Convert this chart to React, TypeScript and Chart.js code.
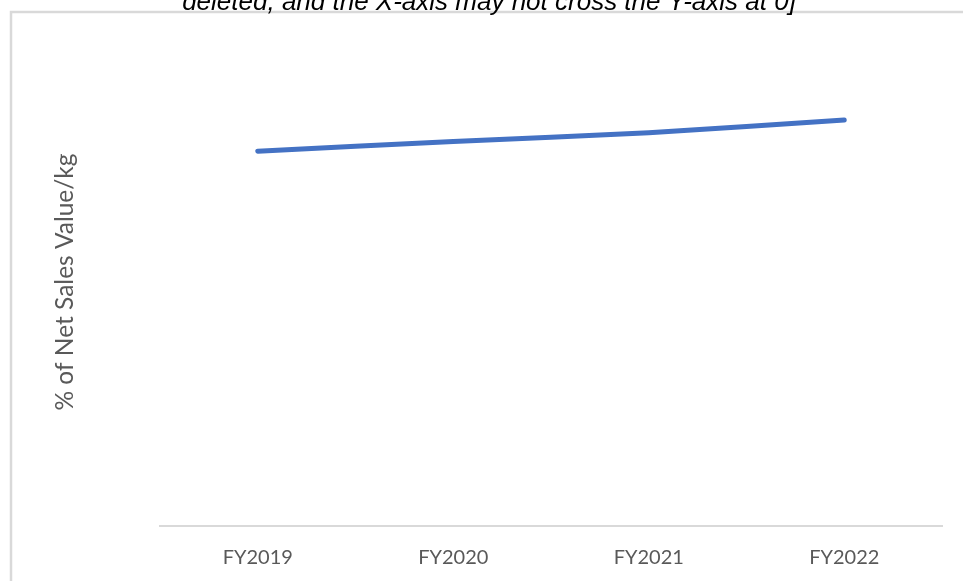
import React, { useEffect, useRef } from "react";
import { Chart, registerables } from "chart.js";

Chart.register(...registerables);

const categories = ["FY2019", "FY2020", "FY2021", "FY2022"];
const netSalesValuePerKg = [7.68, 7.88, 8.06, 8.32];
const yAxisTitle = "% of Net Sales Value/kg";
const cutTitle = "deleted, and the X-axis may not cross the Y-axis at 0]";

const FONT = "Lato, 'Open Sans', sans-serif";

const framePlugin = {
  id: "frame",
  beforeDraw(chart: any) {
    const ctx = chart.ctx;
    ctx.save();
    ctx.fillStyle = "#ffffff";
    ctx.fillRect(0, 0, chart.width, chart.height);
    ctx.strokeStyle = "#d9d9d9";
    ctx.lineWidth = 2.5;
    ctx.strokeRect(11, 12, chart.width + 10, chart.height + 10);
    ctx.fillStyle = "#000000";
    ctx.font = "italic 26px 'Liberation Sans', Arial, sans-serif";
    ctx.textAlign = "center";
    ctx.textBaseline = "alphabetic";
    ctx.fillText(cutTitle, 489, 10);
    ctx.restore();
  },
};

export default function App() {
  const ref = useRef<HTMLCanvasElement>(null);
  useEffect(() => {
    if (!ref.current) return;
    const chart = new Chart(ref.current, {
      type: "line",
      data: {
        labels: categories,
        datasets: [
          {
            data: netSalesValuePerKg,
            borderColor: "#4472C4",
            borderWidth: 5,
            borderCapStyle: "round",
            pointRadius: 0,
            tension: 0.15,
            fill: false,
          },
        ],
      },
      options: {
        responsive: false,
        animation: false,
        layout: { padding: { top: 38, left: 10, right: 21, bottom: 0 } },
        plugins: { legend: { display: false }, tooltip: { enabled: false }, title: { display: false } },
        scales: {
          x: {
            offset: true,
            grid: { display: false, drawTicks: false },
            border: { display: true, color: "#d9d9d9", width: 2 },
            ticks: { color: "#595959", font: { family: FONT, size: 20 }, padding: 20 },
            afterFit: (s: any) => {
              s.height = 55;
            },
          },
          y: {
            min: 0,
            max: 10,
            grid: { display: false, drawTicks: false },
            border: { display: false },
            ticks: { display: false },
            title: {
              display: true,
              text: yAxisTitle,
              color: "#595959",
              font: { family: FONT, size: 24.5 },
              padding: { top: 40, bottom: 0 },
            },
            afterFit: (s: any) => {
              s.width = 150;
            },
          },
        },
      },
      plugins: [framePlugin],
    });
    return () => chart.destroy();
  }, []);
  return (
    <div style={{ position: "fixed", left: 0, top: 0, width: 963, height: 581 }}>
      <canvas ref={ref} width={963} height={581} style={{ display: "block" }} />
    </div>
  );
}
